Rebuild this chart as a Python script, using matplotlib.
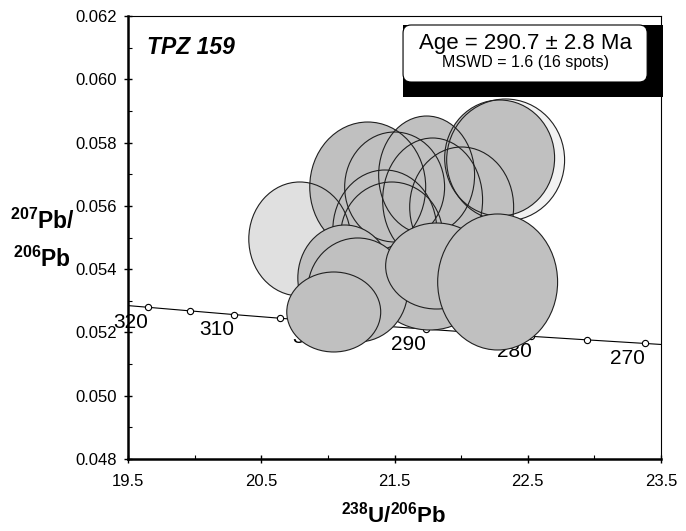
import matplotlib
matplotlib.use('Agg')
import matplotlib.pyplot as plt
from matplotlib.patches import Ellipse, Rectangle, FancyBboxPatch
from matplotlib.ticker import MultipleLocator

plt.rcParams['font.family'] = ['Liberation Sans', 'DejaVu Sans']
plt.rcParams['mathtext.fontset'] = 'custom'
plt.rcParams['mathtext.rm'] = 'Liberation Sans'
plt.rcParams['mathtext.bf'] = 'Liberation Sans:bold'


### data

# concordia age marks (Ma) and where they sit
conc_age = [320, 315, 310, 305, 300, 295, 290, 285, 280, 275, 270]
conc_x = [19.649, 19.969, 20.299, 20.640, 20.992, 21.356,
          21.733, 22.122, 22.527, 22.945, 23.379]
conc_y = [0.052795, 0.052680, 0.052563, 0.052449, 0.052333, 0.052218,
          0.052105, 0.051990, 0.051877, 0.051765, 0.051652]
# where the curve meets the frame
conc_end_x = [19.5, 23.5]
conc_end_y = [0.052848, 0.051620]
label_ages = [320, 310, 300, 290, 280, 270]

# spot error ellipses: centre, full width along x, full height along y
spot_x = [20.789, 22.334, 21.299, 21.741, 21.786, 21.501, 21.427, 21.479,
          22.004, 22.289, 21.127, 21.764, 21.224, 21.816, 21.044, 22.274]
spot_y = [0.054953, 0.057449, 0.056596, 0.056975, 0.056185, 0.056596,
          0.055237, 0.055079, 0.055964, 0.057512, 0.053720, 0.053499,
          0.053341, 0.054099, 0.052646, 0.053594]
spot_w = [0.765, 0.885, 0.870, 0.720, 0.750, 0.750, 0.780, 0.765,
          0.780, 0.825, 0.705, 0.825, 0.750, 0.765, 0.705, 0.900]
spot_h = [0.003603, 0.003856, 0.004108, 0.003729, 0.003919, 0.003476,
          0.003792, 0.003350, 0.003792, 0.003666, 0.003350, 0.002844,
          0.003287, 0.002718, 0.002528, 0.004298]
spot_kind = ['rejected', 'common'] + ['used'] * 14

age_text = 'Age = 290.7 ± 2.8 Ma'
mswd_text = 'MSWD = 1.6 (16 spots)'
sample = 'TPZ 159'


### plotting

fills = {'rejected': '#e0e0e0', 'common': '#f2f2f2', 'used': '#c0c0c0'}

fig = plt.figure(figsize=(6.86, 5.31), dpi=100)
ax = fig.add_axes([0.18659, 0.13559, 0.77697, 0.83427])

# concordia
ax.plot([conc_end_x[0]] + conc_x + [conc_end_x[1]],
        [conc_end_y[0]] + conc_y + [conc_end_y[1]],
        color='black', lw=0.8, zorder=1)
ax.plot(conc_x, conc_y, 'o', ms=4.5, mfc='white', mec='black', mew=0.8, zorder=1.5)
for a, x, y in zip(conc_age, conc_x, conc_y):
    if a in label_ages:
        ax.annotate(str(a), (x, y), xytext=(-12.5, -11), textcoords='offset points',
                    ha='center', va='center', fontsize=15, zorder=1.5)

# back ellipses: fills first, then all outlines on top
n_back = 10
for i in range(n_back):
    ax.add_patch(Ellipse((spot_x[i], spot_y[i]), spot_w[i], spot_h[i],
                         fc=fills[spot_kind[i]], ec='none', zorder=2))
for i in range(n_back):
    ax.add_patch(Ellipse((spot_x[i], spot_y[i]), spot_w[i], spot_h[i],
                         fc='none', ec='#202020', lw=0.8, zorder=3))
# front ellipses one by one
for i in range(n_back, len(spot_x)):
    ax.add_patch(Ellipse((spot_x[i], spot_y[i]), spot_w[i], spot_h[i],
                         fc=fills[spot_kind[i]], ec='#202020', lw=0.8, zorder=4 + i))

ax.set_xlim(19.5, 23.5)
ax.set_ylim(0.048, 0.062)
ax.set_xticks([19.5, 20.5, 21.5, 22.5, 23.5])
ax.set_xticklabels(['19.5', '20.5', '21.5', '22.5', '23.5'])
ax.set_yticks([0.048, 0.050, 0.052, 0.054, 0.056, 0.058, 0.060, 0.062])
ax.set_yticklabels(['%.3f' % v for v in ax.get_yticks()])
ax.xaxis.set_minor_locator(MultipleLocator(0.5))
ax.yaxis.set_minor_locator(MultipleLocator(0.001))
ax.tick_params(which='major', direction='inout', length=6, width=1, labelsize=12)
ax.tick_params(which='minor', direction='in', length=3, width=0.8)
ax.tick_params(axis='x', which='major', pad=8)
ax.tick_params(axis='y', which='major', pad=5)

for side in ['left', 'bottom']:
    ax.spines[side].set_linewidth(1.8)
for side in ['top', 'right']:
    ax.spines[side].set_linewidth(0.8)

# result box with black shadow
ax.add_patch(Rectangle((0.516, 0.8172), 0.488, 0.1625, transform=ax.transAxes,
                       fc='black', ec='none', zorder=30, clip_on=False))
ax.add_patch(FancyBboxPatch((0.516, 0.851), 0.458, 0.1287, transform=ax.transAxes,
                            boxstyle='round,pad=0,rounding_size=0.015',
                            mutation_aspect=1.2, fc='white', ec='black',
                            lw=0.8, zorder=31, clip_on=False))
ax.text(0.745, 0.939, age_text, transform=ax.transAxes, ha='center', va='center',
        fontsize=16, zorder=32)
ax.text(0.745, 0.894, mswd_text, transform=ax.transAxes, ha='center', va='center',
        fontsize=11.5, zorder=32)

ax.text(0.036, 0.930, sample, transform=ax.transAxes, ha='left', va='center',
        fontsize=16.5, fontweight='bold', fontstyle='italic', zorder=32)

# axis titles
fig.text(394 / 686, 1 - 515 / 531, r'$\mathbf{^{238}U/^{206}Pb}$',
         ha='center', va='center', fontsize=16)
fig.text(42 / 686, 1 - 221 / 531, r'$\mathbf{^{207}Pb/}$',
         ha='center', va='center', fontsize=16.5)
fig.text(42 / 686, 1 - 259 / 531, r'$\mathbf{^{206}Pb}$',
         ha='center', va='center', fontsize=16.5)

fig.savefig('out.png', dpi=100)
